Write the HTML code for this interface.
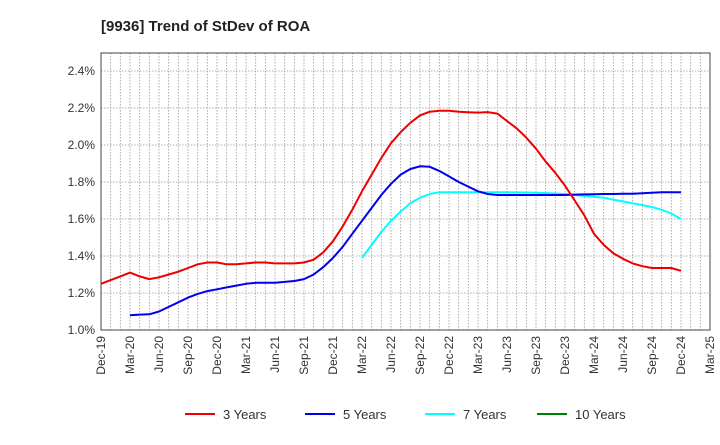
<!DOCTYPE html>
<html><head><meta charset="utf-8"><style>
body{margin:0;background:#fff;font-family:"Liberation Sans",Arial,sans-serif}
svg text{font-family:"Liberation Sans",Arial,sans-serif}
</style></head><body>
<svg width="720" height="440" xmlns="http://www.w3.org/2000/svg">
<text x="101" y="31" font-size="15" font-weight="bold" fill="#222">[9936]  Trend of StDev of ROA</text>
<g id="grid"></g><g id="axes"></g><g id="series"></g><g id="legend"></g>
</svg>
<script>
const xLabels=["Dec-19","Mar-20","Jun-20","Sep-20","Dec-20","Mar-21","Jun-21","Sep-21","Dec-21","Mar-22","Jun-22","Sep-22","Dec-22","Mar-23","Jun-23","Sep-23","Dec-23","Mar-24","Jun-24","Sep-24","Dec-24","Mar-25"];
const yTicks=[1.0,1.2,1.4,1.6,1.8,2.0,2.2,2.4];
const s3Start=0;
const s3=[1.25,1.27,1.29,1.31,1.29,1.275,1.285,1.30,1.315,1.335,1.355,1.365,1.365,1.355,1.355,1.36,1.365,1.365,1.36,1.36,1.36,1.365,1.38,1.42,1.48,1.56,1.65,1.75,1.84,1.93,2.01,2.07,2.12,2.16,2.18,2.185,2.185,2.18,2.177,2.175,2.178,2.17,2.13,2.09,2.04,1.98,1.91,1.85,1.78,1.70,1.62,1.52,1.46,1.415,1.385,1.36,1.345,1.335,1.335,1.335,1.32];
const s5Start=3;
const s5=[1.08,1.083,1.085,1.10,1.125,1.15,1.175,1.195,1.21,1.22,1.23,1.24,1.25,1.255,1.255,1.255,1.26,1.265,1.275,1.30,1.34,1.39,1.45,1.52,1.59,1.66,1.73,1.79,1.84,1.87,1.885,1.882,1.86,1.83,1.80,1.775,1.75,1.735,1.73,1.73,1.73,1.73,1.73,1.73,1.73,1.73,1.732,1.733,1.734,1.735,1.735,1.736,1.737,1.739,1.742,1.745,1.745,1.745];
const s7Start=27;
const s7=[1.39,1.46,1.53,1.59,1.64,1.685,1.715,1.735,1.745,1.745,1.745,1.745,1.745,1.745,1.745,1.745,1.744,1.743,1.742,1.74,1.738,1.735,1.73,1.725,1.72,1.715,1.705,1.695,1.685,1.675,1.665,1.65,1.63,1.60];
const s10=[];
const NS="http://www.w3.org/2000/svg";
const L=101,R=710,T=53,B=330,months=63;
const xs=m=>L+m*(R-L)/months;
const ys=v=>B-(v-1.0)/0.2*37;
function el(t,a,p){const e=document.createElementNS(NS,t);for(const k in a)e.setAttribute(k,a[k]);document.getElementById(p).appendChild(e);return e;}
for(let m=1;m<months;m++){const g=el('line',{x1:xs(m),x2:xs(m),y1:T,y2:B,stroke:'#999','stroke-width':0.8,'stroke-dasharray':'1.5,1.5'},'grid');

}
yTicks.forEach(v=>{if(v>1.0){const g=el('line',{x1:L,x2:R,y1:ys(v),y2:ys(v),stroke:'#999','stroke-width':0.8,'stroke-dasharray':'1.5,1.5'},'grid');

}
const t=el('text',{x:L-6,y:ys(v)+4,'text-anchor':'end','font-size':12,fill:'#333'},'axes');t.textContent=v.toFixed(1)+'%';

});
const fr=el('rect',{x:L,y:T,width:R-L,height:B-T,fill:'none',stroke:'#444','stroke-width':1},'axes');


xLabels.forEach((lab,i)=>{const x=xs(i*3);const t=el('text',{x:0,y:0,'text-anchor':'end','font-size':12,fill:'#333',transform:`translate(${x+4},${B+6}) rotate(-90)`},'axes');t.textContent=lab;

});
function line(arr,start,color,name){if(!arr.length)return;const d=arr.map((v,i)=>(i?'L':'M')+xs(start+i).toFixed(1)+','+ys(v).toFixed(1)).join('');
const p=el('path',{d:d,fill:'none',stroke:color,'stroke-width':2,'stroke-linejoin':'round'},'series');

}
line(s7,s7Start,'#00ffff','series-7-years');
line(s5,s5Start,'#0000ee','series-5-years');
line(s3,s3Start,'#ee0000','series-3-years');
line(s10,0,'#008000','series-10-years');
[["3 Years","#ee0000",185],["5 Years","#0000ee",305],["7 Years","#00ffff",425],["10 Years","#008000",537]].forEach(([n,c,x])=>{
const l=el('line',{x1:x,x2:x+30,y1:414,y2:414,stroke:c,'stroke-width':2},'legend');


const t=el('text',{x:x+38,y:419,'font-size':13,fill:'#333'},'legend');t.textContent=n;

});
</script>
</body></html>
